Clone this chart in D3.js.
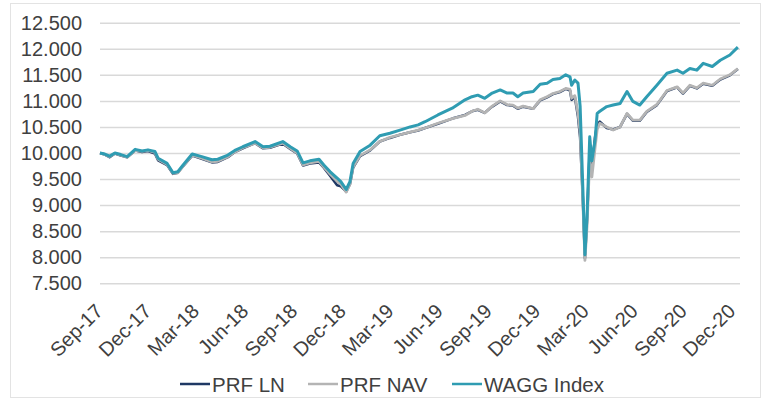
<!DOCTYPE html>
<html><head><meta charset="utf-8">
<script src="https://cdn.jsdelivr.net/npm/d3@7"></script>
<style>html,body{margin:0;padding:0;background:#fff;}svg{display:block;font-family:"Liberation Sans",Arial,sans-serif;}</style>
</head><body><svg id="c" width="767" height="407"></svg>
<script>
const dates = ["2017-09-29","2017-10-08","2017-10-17","2017-10-27","2017-11-07","2017-11-19","2017-12-04","2017-12-17","2017-12-28","2018-01-10","2018-01-16","2018-02-02","2018-02-13","2018-02-22","2018-03-04","2018-03-21","2018-04-08","2018-04-27","2018-05-08","2018-05-27","2018-06-09","2018-06-24","2018-07-17","2018-08-01","2018-08-14","2018-09-07","2018-09-21","2018-10-04","2018-10-15","2018-10-28","2018-11-14","2018-11-23","2018-12-05","2018-12-18","2018-12-25","2019-01-04","2019-01-11","2019-01-17","2019-01-30","2019-02-18","2019-03-08","2019-03-27","2019-04-15","2019-05-04","2019-05-19","2019-06-01","2019-06-25","2019-07-22","2019-08-15","2019-08-28","2019-09-08","2019-09-21","2019-10-05","2019-10-20","2019-11-02","2019-11-13","2019-11-22","2019-12-02","2019-12-21","2020-01-03","2020-01-16","2020-01-27","2020-02-09","2020-02-20","2020-02-28","2020-03-02","2020-03-08","2020-03-14","2020-03-18","2020-03-23","2020-03-27","2020-03-31","2020-04-05","2020-04-09","2020-04-15","2020-04-19","2020-04-24","2020-05-07","2020-05-19","2020-06-01","2020-06-14","2020-06-25","2020-07-08","2020-07-21","2020-08-09","2020-08-28","2020-09-16","2020-09-27","2020-10-10","2020-10-23","2020-11-04","2020-11-21","2020-12-06","2020-12-24","2021-01-08"];
const prfLN = [10000,9970,9920,9990,9950,9920,10050,10020,10040,9990,9860,9770,9600,9620,9750,9950,9890,9820,9830,9920,10020,10090,10190,10090,10100,10180,10080,9990,9760,9800,9820,9720,9560,9380,9360,9260,9400,9720,9940,10050,10220,10290,10350,10400,10430,10480,10560,10660,10730,10800,10830,10770,10890,10990,10920,10910,10850,10890,10850,11010,11070,11130,11170,11230,11200,11020,11080,10700,10300,9150,7980,8750,10050,9700,10300,10550,10600,10480,10450,10500,10750,10620,10620,10790,10920,11190,11260,11140,11290,11240,11330,11290,11410,11490,11610];
const prfNAV = [10000,9970,9930,9990,9960,9920,10050,10030,10050,10010,9880,9780,9610,9620,9750,9960,9900,9830,9840,9930,10020,10100,10190,10100,10110,10190,10090,10000,9770,9810,9840,9730,9590,9460,9400,9250,9400,9730,9950,10060,10220,10300,10350,10400,10440,10480,10570,10660,10720,10800,10840,10770,10900,11000,10930,10920,10860,10900,10850,11020,11080,11140,11180,11240,11220,11050,11100,10760,10400,9100,7940,8600,9900,9540,10100,10450,10570,10500,10440,10500,10760,10630,10630,10800,10930,11200,11270,11150,11300,11250,11340,11300,11420,11500,11620];
const waggIndex = [10000,9980,9940,10000,9970,9930,10070,10040,10060,10030,9900,9800,9620,9640,9770,9980,9930,9870,9880,9960,10050,10120,10220,10120,10130,10220,10120,10040,9810,9850,9880,9770,9640,9520,9450,9300,9450,9800,10030,10150,10330,10380,10440,10500,10540,10600,10730,10860,11020,11080,11110,11050,11150,11210,11150,11150,11080,11150,11180,11320,11340,11410,11430,11500,11460,11300,11400,11340,10900,9350,8050,8800,10310,9850,10250,10760,10800,10890,10920,10950,11180,10990,10920,11080,11300,11530,11590,11530,11620,11590,11720,11660,11780,11880,12030];
const seriesNames = ["PRF LN","PRF NAV","WAGG Index"];
const seriesColors = ["#1f3864","#b4b4b4","#2f9cb2"];
const yTicks = [7500,8000,8500,9000,9500,10000,10500,11000,11500,12000,12500];
const xTickDates = ["2017-09-30","2017-12-30","2018-03-30","2018-06-30","2018-09-30","2018-12-30","2019-03-30","2019-06-30","2019-09-30","2019-12-30","2020-03-30","2020-06-30","2020-09-30","2020-12-30"];

const parse = d3.timeParse("%Y-%m-%d");
const svg = d3.select("#c");
const x = d3.scaleTime().domain([parse("2017-09-29"), parse("2021-01-12")]).range([100, 740]);
const y = d3.scaleLinear().domain([7500, 12500]).range([283.3, 22.7]);
const loc = d3.formatLocale({decimal:",", thousands:".", grouping:[3], currency:["",""]});
const fmt = loc.format(",d");

// border
svg.append("rect").attr("x",10.5).attr("y",3.5).attr("width",750).attr("height",394).attr("fill","none").attr("stroke","#e3e3e3").attr("stroke-width",1);

// gridlines + y labels
const yAxis = d3.axisLeft(y).tickValues(yTicks).tickFormat(fmt).tickSize(-640).tickPadding(18);
const gy = svg.append("g").attr("transform","translate(100,0)").call(yAxis);
gy.select(".domain").remove();
gy.selectAll("line").attr("stroke","#d9d9d9").attr("stroke-width",1.5);
gy.selectAll("text").attr("fill","#404040").attr("font-size","20px").attr("x",-18);

// x labels
const xAxis = d3.axisBottom(x).tickValues(xTickDates.map(parse)).tickFormat(d3.timeFormat("%b-%y")).tickSize(0);
const gx = svg.append("g").attr("transform","translate(0,283.3)").call(xAxis);
gx.select(".domain").remove();
gx.selectAll("text").attr("fill","#404040").attr("font-size","20px")
  .attr("text-anchor","end").attr("dy",0).attr("y",0)
  .attr("transform","translate(3,29) rotate(-45)");

// lines
const values = [prfLN, prfNAV, waggIndex];
const widths = [2.6, 2.8, 3];
values.forEach((vals, i) => {
  const data = dates.map((d, j) => ({d: parse(d), v: vals[j]}));
  svg.append("path").datum(data)
    .attr("fill","none").attr("stroke",seriesColors[i]).attr("stroke-width",widths[i]).attr("stroke-linejoin","round")
    .attr("d", d3.line().x(p => x(p.d)).y(p => y(p.v)));
});

// legend
const legX = [180, 308, 452];
const lg = svg.append("g");
seriesNames.forEach((n, i) => {
  lg.append("line").attr("x1",legX[i]).attr("x2",legX[i]+30).attr("y1",384).attr("y2",384).attr("stroke",seriesColors[i]).attr("stroke-width",2.5);
  lg.append("text").attr("x",legX[i]+32).attr("y",391.5).attr("font-size","20.5px").attr("fill","#404040").text(n);
});
</script></body></html>
